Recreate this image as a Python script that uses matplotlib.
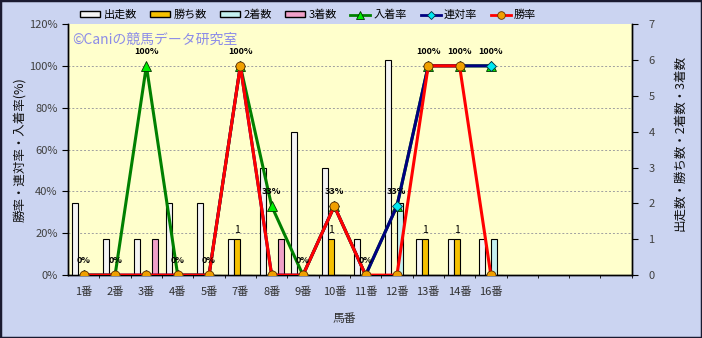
import numpy as np
import matplotlib.pyplot as plt
from matplotlib.patches import Patch, Rectangle
from matplotlib.lines import Line2D
from matplotlib.ticker import FuncFormatter

plt.rcParams['font.family'] = ['Noto Sans CJK JP', 'DejaVu Sans']

horses = ['1番', '2番', '3番', '4番', '5番', '7番', '8番', '9番',
          '10番', '11番', '12番', '13番', '14番', '16番']
runs = [2, 1, 1, 2, 2, 1, 3, 4, 3, 1, 6, 1, 1, 1]
wins = [0, 0, 0, 0, 0, 1, 0, 0, 1, 0, 0, 1, 1, 0]
seconds = [0, 0, 0, 0, 0, 0, 0, 0, 0, 0, 2, 0, 0, 1]
thirds = [0, 0, 1, 0, 0, 0, 1, 0, 0, 0, 0, 0, 0, 0]
place_rate = [0, 0, 100, 0, 0, 100, 33, 0, 33, 0, 33, 100, 100, 100]
rentai_rate = [0, 0, 0, 0, 0, 100, 0, 0, 33, 0, 33, 100, 100, 100]
win_rate = [0, 0, 0, 0, 0, 100, 0, 0, 33, 0, 0, 100, 100, 0]
n_slots = 18

x = np.arange(len(horses))
w = 0.19

fig = plt.figure(figsize=(7.02, 3.38), dpi=100, facecolor='#cbd4f1')
ax = fig.add_axes([0.097, 0.186, 0.803, 0.743])
ax2 = ax.twinx()
ax.set_zorder(2)
ax2.set_zorder(1)
ax.patch.set_visible(False)
ax2.patch.set_visible(True)
ax2.patch.set_facecolor('#ffffcc')

# bars (counts) on right axis
bar_style = dict(width=w, edgecolor='black', linewidth=0.8, zorder=3)
ax2.bar(x - 1.5 * w, runs, color='#f4f4f4', **bar_style)
ax2.bar(x - 0.5 * w, wins, color='#f5c000', **bar_style)
ax2.bar(x + 0.5 * w, seconds, color='#c4f0f0', **bar_style)
ax2.bar(x + 1.5 * w, thirds, color='#f0a0c8', **bar_style)
for xi, v in zip(x, wins):
    if v > 0:
        ax2.annotate(str(v), (xi - 0.5 * w, v), xytext=(0, 3), textcoords='offset points',
                     ha='center', va='bottom', fontsize=7.5)

ax2.set_ylim(0, 7)
ax2.set_yticks(range(8))
ax2.set_yticks([k * 7 / 6 for k in range(1, 7)], minor=True)
ax2.set_xticks(np.arange(n_slots) + 0.5, minor=True)
ax2.grid(which='minor', color='#a0a0a0', linestyle=(0, (2, 2)), linewidth=0.7)
ax2.tick_params(which='minor', length=0)
ax2.tick_params(axis='y', labelsize=8, labelcolor='#404040', length=4, pad=8)

# rate lines on left axis
ax.plot(x, place_rate, color='#008000', lw=2.2, marker='^', ms=7,
        mfc='#00ee00', mec='#003000', mew=0.6, zorder=4)
ax.plot(x, rentai_rate, color='#000080', lw=2.2, marker='D', ms=5.5,
        mfc='#00e8f0', mec='#003040', mew=0.6, zorder=5)
ax.plot(x, win_rate, color='#ff0000', lw=2.2, marker='o', ms=6.5,
        mfc='#f0a000', mec='#603000', mew=0.6, zorder=6)
for xi, v in zip(x, place_rate):
    ax.annotate(f'{v}%', (xi, v), xytext=(0, 7), textcoords='offset points',
                ha='center', va='bottom', fontsize=6.5, fontweight='bold', zorder=7)

ax.set_xlim(-0.5, n_slots - 0.5)
ax.set_ylim(0, 120)
ax.set_yticks(range(0, 121, 20))
ax.yaxis.set_major_formatter(FuncFormatter(lambda v, p: f'{int(v)}%'))
ax.tick_params(axis='y', labelsize=8, labelcolor='#404040', length=4)
ax.set_xticks(x)
ax.set_xticklabels(horses)
ax.tick_params(axis='x', labelsize=8, labelcolor='#303030', length=0, pad=8)
ax2.tick_params(axis='x', which='both', length=0)

for a in (ax, ax2):
    a.spines['top'].set_visible(False)
    for s in ('left', 'right', 'bottom'):
        a.spines[s].set_color('black')
        a.spines[s].set_linewidth(1)

ax.text(0.008, 0.936, '©Caniの競馬データ研究室', transform=ax.transAxes,
        color='#8c8ce8', fontsize=10, va='center', zorder=1)

fig.text(0.028, 0.556, '勝率・連対率・入着率(%)', rotation=90, ha='center', va='center',
         fontsize=9, color='#101010')
fig.text(0.968, 0.578, '出走数・勝ち数・2着数・3着数', rotation=90, ha='center', va='center',
         fontsize=9, color='#101010')
fig.text(0.491, 0.059, '馬番', ha='center', va='center', fontsize=8.5, color='#303030')

handles = [
    Patch(facecolor='#f4f4f4', edgecolor='black', linewidth=1),
    Patch(facecolor='#f5c000', edgecolor='black', linewidth=1),
    Patch(facecolor='#c4f0f0', edgecolor='black', linewidth=1),
    Patch(facecolor='#f0a0c8', edgecolor='black', linewidth=1),
    Line2D([], [], color='#008000', lw=2, marker='^', ms=6, mfc='#00ee00', mec='#003000', mew=0.6),
    Line2D([], [], color='#000080', lw=2, marker='D', ms=4.5, mfc='#00e8f0', mec='#003040', mew=0.6),
    Line2D([], [], color='#ff0000', lw=2, marker='o', ms=5.5, mfc='#f0a000', mec='#603000', mew=0.6),
]
names = ['出走数', '勝ち数', '2着数', '3着数', '入着率', '連対率', '勝率']
fig.legend(handles, names, loc='center', bbox_to_anchor=(0.439, 0.956), ncol=7,
           frameon=False, fontsize=8, handlelength=1.8, handleheight=0.5,
           columnspacing=1.2, handletextpad=0.3)

fig.patches.append(Rectangle((0, 0), 1, 1, transform=fig.transFigure, fill=False,
                             edgecolor='#1a1a30', linewidth=2.5))

fig.savefig('out.png', dpi=100, facecolor=fig.get_facecolor())
